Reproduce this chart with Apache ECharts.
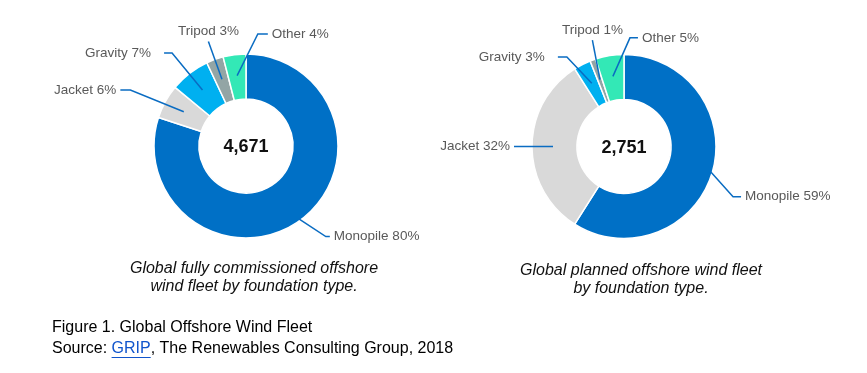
<!DOCTYPE html>
<html><head><meta charset="utf-8">
<script src="https://cdn.jsdelivr.net/npm/echarts@6/dist/echarts.min.js"></script>
<style>html,body{margin:0;padding:0;background:#fff}#c{width:867px;height:373px}</style>
</head><body><div id="c"></div>
<script>
// ---- data ----
const categories = ['Monopile', 'Jacket', 'Gravity', 'Tripod', 'Other'];
const commissionedShare = [80, 6, 7, 3, 4];
const plannedShare = [59, 32, 3, 1, 5];
const centerTotals = ['4,671', '2,751'];
const captions = [
  'Global fully commissioned offshore\nwind fleet by foundation type.',
  'Global planned offshore wind fleet\nby foundation type.'
];
const figureTitle = 'Figure 1. Global Offshore Wind Fleet';
const sourcePrefix = 'Source: ';
const sourceLink = 'GRIP';
const sourceRest = ', The Renewables Consulting Group, 2018';

// ---- styles ----
const sliceColors = ['#0070C6', '#D9D9D9', '#00B0F0', '#93A5A5', '#33E8B6'];
const leaderColor = '#0A6CC2';
const FONT = '"Liberation Sans", Arial, sans-serif';
const leftLeaders = [
  {len: 41, len2: 4, dx: 14, dy: 0, out: 19},
  {len: 45, len2: 10, dx: -14, dy: 0},
  {len: 48, len2: 8, dx: -1, dy: 1, gap: 13},
  {len: 40, top: true},
  {len: 42, len2: 10, dx: 26, dy: 0, side: 1}
];
const rightLeaders = [
  {len: 41, len2: 8, dx: 1.5, dy: 19, out: 19},
  {len: 31, len2: 8, dx: 0, dy: 0},
  {len: 35, len2: 9, dx: -9, dy: 5, gap: 13},
  {len: 40, dx: 6, dy: -2, top: true},
  {len: 38, len2: 8, dx: 23, dy: -1, side: 1}
];
const pies = [
  {center: [246, 146], values: commissionedShare, leaders: leftLeaders},
  {center: [624, 146.5], values: plannedShare, leaders: rightLeaders}
];

function leaderLayout(cfg) {
  return function (p) {
    const c = cfg[p.dataIndex];
    const pts = p.labelLinePoints;
    if (!c || !pts) return {};
    const p0 = pts[0], p1o = pts[1];
    const vx = p1o[0] - p0[0], vy = p1o[1] - p0[1];
    const L = Math.hypot(vx, vy) || 1;
    const out = c.out || 0;
    const s = [p0[0] + vx / L * out, p0[1] + vy / L * out];
    const b = [p1o[0] + (c.dx || 0), p1o[1] + (c.dy || 0)];
    if (c.top) {
      return {x: b[0], y: b[1] - 3, align: 'center', verticalAlign: 'bottom', labelLinePoints: [s, b, b]};
    }
    const dir = c.side || (pts[2][0] >= p1o[0] ? 1 : -1);
    const e = [b[0] + dir * (c.len2 || 0), b[1]];
    const gap = c.gap || 4;
    return {x: e[0] + dir * gap, y: e[1], align: dir > 0 ? 'left' : 'right', verticalAlign: 'middle', labelLinePoints: [s, b, e]};
  };
}

const series = [];
pies.forEach(function (pc) {
  series.push({
    type: 'pie', center: pc.center, radius: [47, 92], startAngle: 90, clockwise: true,
    silent: true, avoidLabelOverlap: false, z: 2,
    label: {show: false}, labelLine: {show: false},
    itemStyle: {borderColor: '#fff', borderWidth: 1.5},
    data: categories.map(function (n, i) {
      return {name: n, value: pc.values[i], itemStyle: {color: sliceColors[i]}};
    })
  });
  series.push({
    type: 'pie', center: pc.center, radius: [0, 71], startAngle: 90, clockwise: true,
    silent: true, avoidLabelOverlap: false, z: 5,
    itemStyle: {color: 'rgba(0,0,0,0)', borderWidth: 0},
    label: {show: true, position: 'outside', formatter: '{b} {c}%', color: '#595959',
      fontSize: 13.5, fontFamily: FONT, alignTo: 'none'},
    labelLine: {show: true, length: 30, length2: 5, smooth: false,
      lineStyle: {color: leaderColor, width: 1.5}},
    labelLayout: leaderLayout(pc.leaders),
    data: categories.map(function (n, i) {
      return {name: n, value: pc.values[i], labelLine: {length: pc.leaders[i].len}};
    })
  });
});

// measure for the link underline
const ctx = document.createElement('canvas').getContext('2d');
ctx.font = '16px "Liberation Sans"';
const wPrefix = ctx.measureText(sourcePrefix).width;
const wLink = ctx.measureText(sourceLink).width;

const graphic = [
  {type: 'text', x: 246, y: 147, z: 10, style: {text: centerTotals[0], font: 'bold 18px ' + FONT, fill: '#111', align: 'center', verticalAlign: 'middle'}},
  {type: 'text', x: 624, y: 148, z: 10, style: {text: centerTotals[1], font: 'bold 18px ' + FONT, fill: '#111', align: 'center', verticalAlign: 'middle'}},
  {type: 'text', x: 254, y: 277.5, style: {text: captions[0], font: 'italic 16px ' + FONT, fill: '#111', align: 'center', verticalAlign: 'middle', lineHeight: 18}},
  {type: 'text', x: 641, y: 280, style: {text: captions[1], font: 'italic 16px ' + FONT, fill: '#111', align: 'center', verticalAlign: 'middle', lineHeight: 18}},
  {type: 'text', x: 52, y: 328, style: {text: figureTitle, font: '16px ' + FONT, fill: '#000', align: 'left', verticalAlign: 'middle'}},
  {type: 'text', x: 52, y: 349, style: {text: sourcePrefix + '{link|' + sourceLink + '}' + sourceRest, font: '16px ' + FONT, fill: '#000', align: 'left', verticalAlign: 'middle',
    rich: {link: {fill: '#1155CC', font: '16px ' + FONT}}}},
  {type: 'rect', shape: {x: 52 + wPrefix, y: 357, width: wLink, height: 1}, style: {fill: '#1155CC'}}
];

const chart = echarts.init(document.getElementById('c'), null, {renderer: 'canvas'});
chart.setOption({backgroundColor: '#fff', animation: false, series: series, graphic: graphic});
</script>
</body></html>
